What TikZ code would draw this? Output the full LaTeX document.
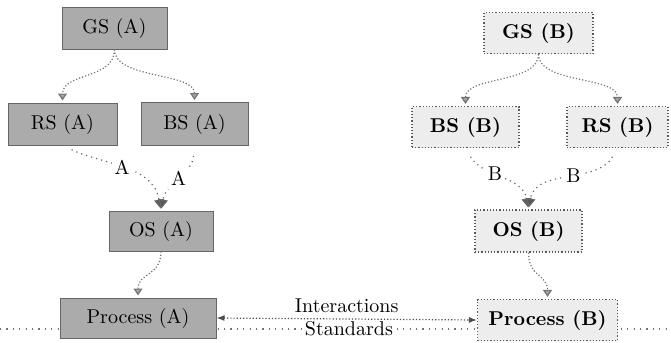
\documentclass[tikz,border=0pt]{standalone}
\usetikzlibrary{arrows.meta}
\begin{document}
\begin{tikzpicture}[x=0.5pt,y=-0.5pt,
  boxA/.style={draw=black!60, fill=black!33, line width=0.5pt, inner sep=1pt, font=\normalsize},
  boxB/.style={draw=black!65, fill=black!7, densely dotted, line width=0.6pt, inner sep=1pt, font=\bfseries},
  tree/.style={draw=black!55, densely dotted, line width=0.6pt,
    -{Triangle[width=4.5pt,length=3.5pt,open,fill=black!35]}, shorten >=1pt},
  merge/.style={draw=black!60, dotted, line width=0.6pt,
    -{Triangle[width=5pt,length=4.5pt,fill=black!65]}, shorten >=1pt, shorten <=5pt},
  tag/.style={fill=white, inner sep=1.5pt, text=black}
]
\useasboundingbox (0,0) rectangle (671,343);

% standards line running behind both processes
\coordinate (stdL) at (0,329);
\coordinate (stdR) at (671,329);
\draw[black!55, dotted, line width=0.6pt, dash pattern=on 0.6pt off 2.6pt]
  (stdL) -- node[tag, pos=0.52] {Standards} (stdR);

% organisation A
\node[boxA, minimum width=52.5pt, minimum height=21pt] (gsA) at (114.5,28) {GS (A)};
\node[boxA, minimum width=54.5pt, minimum height=21pt] (rsA) at (62.5,124) {RS (A)};
\node[boxA, minimum width=53.5pt, minimum height=21.5pt] (bsA) at (194.5,124) {BS (A)};
\node[boxA, minimum width=52pt, minimum height=20pt] (osA) at (161,231) {OS (A)};
\node[boxA, minimum width=78pt, minimum height=20pt] (prA) at (138,318) {Process (A)};

% organisation B
\node[boxB, minimum width=54.5pt, minimum height=20.5pt] (gsB) at (538.5,33) {GS (B)};
\node[boxB, minimum width=53.5pt, minimum height=20.5pt] (bsB) at (465.5,127) {BS (B)};
\node[boxB, minimum width=50.5pt, minimum height=20.5pt] (rsB) at (617.5,127) {RS (B)};
\node[boxB, minimum width=53.5pt, minimum height=21pt] (osB) at (528.5,231) {OS (B)};
\node[boxB, minimum width=70pt, minimum height=20.5pt] (prB) at (547.5,320) {Process (B)};

% tree A
\draw[tree] (gsA.south) .. controls +(0,30) and +(0,-30) .. (rsA.north);
\draw[tree] (gsA.south) .. controls +(0,30) and +(0,-30) .. (bsA.north);
\draw[merge] (rsA.south) to[out=-25,in=100] node[tag, pos=0.48] {A} (osA.north);
\draw[merge] (bsA.south) to[out=-95,in=80] node[tag, pos=0.5] {A} (osA.north);
\draw[tree] (osA.south) .. controls +(0,25) and +(0,-25) .. (prA.north);

% tree B
\draw[tree] (gsB.south) .. controls +(0,30) and +(0,-30) .. (bsB.north);
\draw[tree] (gsB.south) .. controls +(0,30) and +(0,-30) .. (rsB.north);
\draw[merge] (bsB.south) to[out=-60,in=100] node[tag, pos=0.42] {B} (osB.north);
\draw[merge] (rsB.south) to[out=-120,in=80] node[tag, pos=0.45] {B} (osB.north);
\draw[tree] (osB.south) .. controls +(0,25) and +(0,-25) .. (prB.north);

% interactions between the two processes
\draw[black!70, densely dotted, line width=0.6pt,
  {Latex[length=4pt,width=3pt]}-{Latex[length=4pt,width=3pt]}]
  (prA.east) -- node[above=2pt, pos=0.5, inner sep=1pt, text=black] {Interactions} (prB.west);
\end{tikzpicture}
\end{document}
